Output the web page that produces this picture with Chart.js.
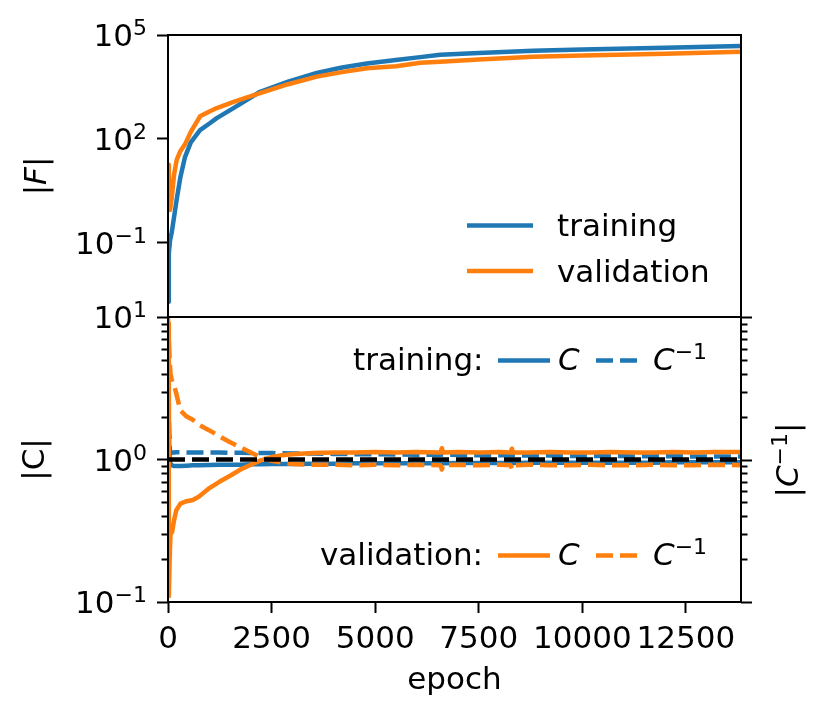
<!DOCTYPE html>
<html>
<head>
<meta charset="utf-8">
<script src="https://cdn.jsdelivr.net/npm/chart.js@4/dist/chart.umd.min.js"></script>
<style>
html, body { margin: 0; padding: 0; background: #fff; }
#wrap { position: relative; width: 831px; height: 721px; }
#wrap canvas { position: absolute; left: 0; top: 0; }
</style>
</head>
<body>
<div id="wrap">
<canvas id="topChart" width="831" height="721"></canvas>
<canvas id="bottomChart" width="831" height="721"></canvas>
</div>
<script>
// |F| panel
var fEpochs = [0, 20, 50, 90, 150, 210, 300, 410, 550, 773, 1000, 1177, 1600, 2222, 2900, 3591, 4200, 4800, 5500, 6087, 6570, 7500, 8815, 10000, 12000, 13830];
var fTraining = [0.002, 0.05, 0.12, 0.2, 0.6, 1.8, 8, 30, 80, 180, 280, 400, 800, 2300, 4500, 8000, 11500, 15000, 19000, 23000, 27000, 30000, 35000, 38000, 43000, 48000];
var fValidation = [18, 10, 0.9, 2, 10, 25, 45, 70, 160, 450, 620, 780, 1200, 2100, 3800, 6300, 8500, 11000, 12600, 15800, 17000, 19500, 23400, 25500, 29000, 33000];

// |C| panel
var cEpochs = [0, 20, 40, 60, 100, 150, 200, 300, 450, 600,
    750, 1000, 1250, 1500, 1750, 2000, 2250, 2500, 2750, 3000,
    3500, 4000, 4500, 5000, 5500, 6000, 6580, 6610, 6640, 7000,
    7500, 8000, 8270, 8300, 8330, 8700, 9200, 9700, 10200, 10700,
    11200, 11700, 12200, 12700, 13200, 13830];
var cTraining = [2.5, 1.5, 1.0, 0.93, 0.91, 0.90, 0.90, 0.90, 0.905, 0.91,
    0.91, 0.915, 0.92, 0.92, 0.92, 0.925, 0.925, 0.93, 0.93, 0.93,
    0.935, 0.935, 0.94, 0.94, 0.94, 0.94, 0.94, 0.93, 0.94, 0.945,
    0.945, 0.945, 0.945, 0.935, 0.945, 0.95, 0.95, 0.95, 0.95, 0.95,
    0.95, 0.95, 0.955, 0.955, 0.955, 0.955];
var cInvTraining = [2.7, 2.0, 1.2, 1.1, 1.12, 1.12, 1.125, 1.125, 1.12, 1.12,
    1.12, 1.12, 1.12, 1.115, 1.115, 1.11, 1.11, 1.11, 1.105, 1.1,
    1.1, 1.095, 1.09, 1.09, 1.085, 1.08, 1.08, 1.09, 1.08, 1.075,
    1.07, 1.07, 1.07, 1.08, 1.07, 1.065, 1.065, 1.06, 1.06, 1.06,
    1.055, 1.055, 1.055, 1.05, 1.05, 1.05];
var cValidation = [9, 0.11, 0.2, 0.3, 0.31, 0.38, 0.44, 0.49, 0.51, 0.52,
    0.55, 0.63, 0.70, 0.77, 0.85, 0.92, 0.99, 1.04, 1.07, 1.09,
    1.11, 1.12, 1.12, 1.13, 1.12, 1.13, 1.12, 1.2, 1.12, 1.13,
    1.12, 1.13, 1.12, 1.19, 1.12, 1.12, 1.13, 1.12, 1.12, 1.13,
    1.12, 1.12, 1.13, 1.12, 1.13, 1.13];
var cInvValidation = [10, 7, 5, 4, 3.5, 3.3, 2.9, 2.2, 2.0, 1.9,
    1.75, 1.6, 1.45, 1.32, 1.22, 1.12, 1.03, 0.98, 0.95, 0.93,
    0.92, 0.92, 0.91, 0.92, 0.91, 0.92, 0.91, 0.85, 0.91, 0.92,
    0.91, 0.92, 0.91, 0.86, 0.91, 0.92, 0.91, 0.91, 0.92, 0.91,
    0.91, 0.92, 0.91, 0.91, 0.92, 0.91];
var refEpochs = [0, 13830];
var refLine = [1, 1];

// ticks
var xTicks = [0, 2500, 5000, 7500, 10000, 12500];
var fTicks = [1e-1, 1e2, 1e5];
var cTicks = [1e-1, 1, 10];
var cMinorTicks = [0.2, 0.3, 0.4, 0.5, 0.6, 0.7, 0.8, 0.9, 2, 3, 4, 5, 6, 7, 8, 9];

var FONT = '"DejaVu Sans", sans-serif';
var BLUE = '#1f77b4';
var ORANGE = '#ff7f0e';

Chart.defaults.font.family = FONT;
Chart.defaults.font.size = 31;
Chart.defaults.color = '#000';

function fixTicks(values) {
    return function(scale) {
        scale.ticks = values.map(function(v) { return {value: v}; });
    };
}

function pairs(xs, ys) {
    return xs.map(function(x, i) { return {x: x, y: ys[i]}; });
}

function line(label, xs, ys, color, dash) {
    return {
        label: label,
        data: pairs(xs, ys),
        borderColor: color,
        borderWidth: 4.5,
        borderDash: dash || [],
        borderCapStyle: 'butt',
        borderJoinStyle: 'round',
        pointRadius: 0,
        tension: 0,
        fill: false,
        clip: 0
    };
}

var gridOpts = {
    display: true,
    drawOnChartArea: false,
    drawTicks: true,
    tickLength: 11,
    tickWidth: 2,
    tickColor: '#000'
};

// text with italic / superscript pieces, like mathtext
function drawParts(ctx, parts, x, y) {
    var cx = x;
    parts.forEach(function(p) {
        ctx.font = (p.it ? 'italic ' : '') + (p.sup ? 22 : 31) + 'px ' + FONT;
        ctx.fillText(p.t, cx, p.sup ? y - 11 : y);
        cx += ctx.measureText(p.t).width;
    });
    return cx - x;
}

function partsWidth(ctx, parts) {
    var w = 0;
    parts.forEach(function(p) {
        ctx.font = (p.it ? 'italic ' : '') + (p.sup ? 22 : 31) + 'px ' + FONT;
        w += ctx.measureText(p.t).width;
    });
    return w;
}

function rotatedLabel(ctx, parts, x, y) {
    ctx.save();
    ctx.translate(x, y);
    ctx.rotate(-Math.PI / 2);
    ctx.textBaseline = 'alphabetic';
    drawParts(ctx, parts, -partsWidth(ctx, parts) / 2, 0);
    ctx.restore();
}

function powLabels(chart, values) {
    var ctx = chart.ctx, s = chart.scales.y;
    ctx.save();
    ctx.fillStyle = '#000';
    ctx.textBaseline = 'alphabetic';
    values.forEach(function(v) {
        var e = String(Math.round(Math.log10(v))).replace('-', '\u2212');
        var parts = [{t: '10'}, {t: e, sup: true}];
        var w = partsWidth(ctx, parts);
        drawParts(ctx, parts, s.right - 21 - w, s.getPixelForValue(v) + 11);
    });
    ctx.restore();
}

function handle(ctx, x1, x2, y, color, dash) {
    ctx.save();
    ctx.strokeStyle = color;
    ctx.lineWidth = 4.5;
    ctx.lineCap = 'butt';
    ctx.setLineDash(dash || []);
    ctx.beginPath();
    ctx.moveTo(x1, y);
    ctx.lineTo(x2, y);
    ctx.stroke();
    ctx.restore();
}

var framePlugin = {
    id: 'frame',
    afterDraw: function(chart) {
        var a = chart.chartArea, ctx = chart.ctx;
        ctx.save();
        ctx.strokeStyle = '#000';
        ctx.lineWidth = 2;
        ctx.strokeRect(a.left, a.top, a.right - a.left, a.bottom - a.top);
        ctx.restore();
    }
};

var topLabels = {
    id: 'topLabels',
    afterDraw: function(chart) {
        var ctx = chart.ctx;
        powLabels(chart, fTicks);
        ctx.save();
        ctx.fillStyle = '#000';
        rotatedLabel(ctx, [{t: '|'}, {t: 'F', it: true}, {t: '|'}], 46, 176);
        handle(ctx, 467, 533, 225.5, BLUE);
        handle(ctx, 467, 533, 271, ORANGE);
        ctx.textBaseline = 'alphabetic';
        drawParts(ctx, [{t: 'training'}], 557, 236);
        drawParts(ctx, [{t: 'validation'}], 557, 282);
        ctx.restore();
    }
};

var bottomLabels = {
    id: 'bottomLabels',
    afterDraw: function(chart) {
        var ctx = chart.ctx, a = chart.chartArea, ys = chart.scales.y;
        powLabels(chart, cTicks);
        ctx.save();
        ctx.strokeStyle = '#000';
        ctx.lineWidth = 2;
        ctx.beginPath();
        cMinorTicks.forEach(function(v) {
            var p = Math.round(ys.getPixelForValue(v)) + 0.5;
            ctx.moveTo(a.left - 6.5, p); ctx.lineTo(a.left, p);
            ctx.moveTo(a.right, p); ctx.lineTo(a.right + 6.5, p);
        });
        cTicks.forEach(function(v) {
            var p = Math.round(ys.getPixelForValue(v)) + 0.5;
            ctx.moveTo(a.right, p); ctx.lineTo(a.right + 11, p);
        });
        ctx.stroke();

        ctx.fillStyle = '#000';
        rotatedLabel(ctx, [{t: '|'}, {t: 'C', it: true}, {t: '\u22121', sup: true}, {t: '|'}], 798, 460);

        ctx.textBaseline = 'alphabetic';
        drawParts(ctx, [{t: 'training:'}], 353, 370);
        handle(ctx, 498, 550, 360.5, BLUE);
        drawParts(ctx, [{t: 'C', it: true}], 558, 370);
        handle(ctx, 596, 638, 360.5, BLUE, [17, 7]);
        drawParts(ctx, [{t: 'C', it: true}, {t: '\u22121', sup: true}], 653, 370);

        drawParts(ctx, [{t: 'validation:'}], 320, 565);
        handle(ctx, 498, 550, 555.5, ORANGE);
        drawParts(ctx, [{t: 'C', it: true}], 558, 565);
        handle(ctx, 596, 638, 555.5, ORANGE, [17, 7]);
        drawParts(ctx, [{t: 'C', it: true}, {t: '\u22121', sup: true}], 653, 565);
        ctx.restore();
    }
};

var topChart = new Chart(document.getElementById('topChart'), {
    type: 'line',
    data: {
        datasets: [
            line('validation', fEpochs, fValidation, ORANGE),
            line('training', fEpochs, fTraining, BLUE)
        ]
    },
    options: {
        responsive: false,
        animation: false,
        devicePixelRatio: 1,
        layout: {padding: {top: 35, bottom: 404, left: 0, right: 90}},
        plugins: {legend: {display: false}, tooltip: {enabled: false}},
        scales: {
            x: {type: 'linear', display: false, min: 0, max: 13830},
            y: {
                type: 'logarithmic',
                min: 7.3e-4,
                max: 1e5,
                afterBuildTicks: fixTicks(fTicks),
                afterFit: function(s) { s.width = 168; },
                ticks: {display: false},
                grid: gridOpts,
                border: {display: false}
            }
        }
    },
    plugins: [framePlugin, topLabels]
});

var bottomChart = new Chart(document.getElementById('bottomChart'), {
    type: 'line',
    data: {
        datasets: [
            line('reference', refEpochs, refLine, '#000', [17, 7]),
            line('validation C^-1', cEpochs, cInvValidation, ORANGE, [17, 7]),
            line('validation C', cEpochs, cValidation, ORANGE),
            line('training C^-1', cEpochs, cInvTraining, BLUE, [17, 7]),
            line('training C', cEpochs, cTraining, BLUE)
        ]
    },
    options: {
        responsive: false,
        animation: false,
        devicePixelRatio: 1,
        layout: {padding: {top: 317, bottom: 0, left: 0, right: 90}},
        plugins: {legend: {display: false}, tooltip: {enabled: false}},
        scales: {
            x: {
                type: 'linear',
                min: 0,
                max: 13830,
                afterBuildTicks: fixTicks(xTicks),
                afterFit: function(s) { s.height = 119; },
                ticks: {callback: function(v) { return String(v); }, padding: 8, autoSkip: false, maxRotation: 0, minRotation: 0},
                grid: gridOpts,
                border: {display: false},
                title: {display: true, text: 'epoch', padding: {top: 0, bottom: 21}}
            },
            y: {
                type: 'logarithmic',
                min: 0.1,
                max: 10,
                afterBuildTicks: fixTicks(cTicks),
                afterFit: function(s) { s.width = 168; },
                ticks: {display: false},
                grid: gridOpts,
                border: {display: false},
                title: {display: true, text: '|C|', padding: {top: 17, bottom: 0}}
            }
        }
    },
    plugins: [framePlugin, bottomLabels]
});
</script>
</body>
</html>
